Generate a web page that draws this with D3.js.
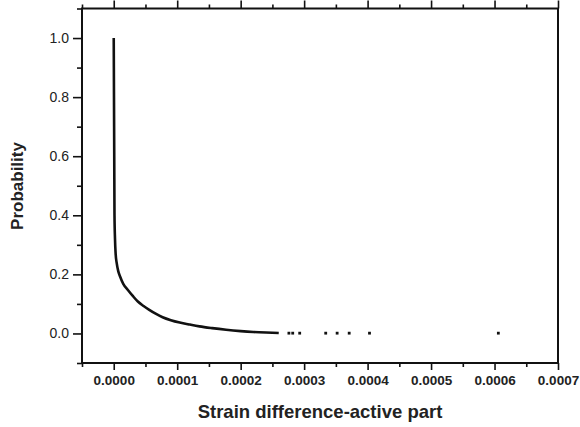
<!DOCTYPE html>
<html>
<head>
<meta charset="utf-8">
<script src="https://cdn.jsdelivr.net/npm/d3@7"></script>
<style>
  body { margin: 0; background: #fff; }
  svg text { font-family: "Liberation Sans", Arial, sans-serif; fill: #222; }
  .domain { display: none; }
</style>
</head>
<body>
<div id="chart"></div>
<script>
// values
var curveX = [0, 0.4e-6, 0.8e-6, 1.2e-6, 2.0e-6, 3.0e-6, 4.7e-6, 7e-6, 1.0e-5, 1.5e-5,
              2.2e-5, 3.0e-5, 3.8e-5, 4.7e-5, 5.6e-5, 6.6e-5, 7.7e-5, 9.0e-5, 1.04e-4,
              1.2e-4, 1.35e-4, 1.55e-4, 1.77e-4, 2.0e-4, 2.2e-4, 2.4e-4, 2.6e-4];
var curveP = [1.0, 0.8, 0.6, 0.4, 0.32, 0.27, 0.238, 0.212, 0.193, 0.168,
              0.148, 0.127, 0.108, 0.093, 0.080, 0.067, 0.055, 0.045, 0.037,
              0.030, 0.024, 0.018, 0.0125, 0.008, 0.005, 0.003, 0.0015];
// isolated points in the tail
var tailX = [2.76e-4, 2.82e-4, 2.93e-4, 3.34e-4, 3.52e-4, 3.71e-4, 4.03e-4, 6.06e-4];
var tailP = [0.001, 0.001, 0.001, 0.001, 0.001, 0.001, 0.001, 0.001];

var xMajor = [0, 0.0001, 0.0002, 0.0003, 0.0004, 0.0005, 0.0006, 0.0007];
var xMinor = [-0.00005, 0.00005, 0.00015, 0.00025, 0.00035, 0.00045, 0.00055, 0.00065];
var yMajor = [0, 0.2, 0.4, 0.6, 0.8, 1.0];
var yMinor = [-0.1, 0.1, 0.3, 0.5, 0.7, 0.9, 1.1];

var W = 580, H = 427;
var pLeft = 82, pRight = 558, pTop = 8.5, pBottom = 363;

var svg = d3.select("#chart").append("svg")
    .attr("width", W).attr("height", H);

var x = d3.scaleLinear().domain([-0.00005, 0.0007]).range([pLeft, pRight]);
var y = d3.scaleLinear().domain([-0.1, 1.1]).range([pBottom, pTop]);

function styleTicks(g) {
    g.selectAll("line").attr("stroke", "#111").attr("stroke-width", 1.6);
}

// bottom axis: labelled majors + minors
svg.append("g").attr("transform", "translate(0," + pBottom + ")")
    .call(d3.axisBottom(x).tickValues(xMajor).tickSize(7).tickPadding(5).tickFormat(d3.format(".4f")))
    .call(styleTicks)
    .call(function (g) {
        g.selectAll("text").style("font-size", "13.5px").style("font-weight", "bold")
            .style("font-family", "'Liberation Sans', Arial, sans-serif").attr("fill", "#222");
    });
svg.append("g").attr("transform", "translate(0," + pBottom + ")")
    .call(d3.axisBottom(x).tickValues(xMinor).tickSize(4).tickFormat(""))
    .call(styleTicks);

// top axis: ticks only
svg.append("g").attr("transform", "translate(0," + pTop + ")")
    .call(d3.axisTop(x).tickValues(xMajor).tickSize(8).tickFormat(""))
    .call(styleTicks);
svg.append("g").attr("transform", "translate(0," + pTop + ")")
    .call(d3.axisTop(x).tickValues(xMinor).tickSize(4).tickFormat(""))
    .call(styleTicks);

// left axis
svg.append("g").attr("transform", "translate(" + pLeft + ",0)")
    .call(d3.axisLeft(y).tickValues(yMajor).tickSize(9).tickPadding(4).tickFormat(d3.format(".1f")))
    .call(styleTicks)
    .call(function (g) {
        g.selectAll("text").style("font-size", "14px")
            .style("font-family", "'Liberation Sans', Arial, sans-serif").attr("fill", "#222");
    });
svg.append("g").attr("transform", "translate(" + pLeft + ",0)")
    .call(d3.axisLeft(y).tickValues(yMinor).tickSize(5).tickFormat(""))
    .call(styleTicks);

// frame
svg.append("rect")
    .attr("x", pLeft).attr("y", pTop)
    .attr("width", pRight - pLeft).attr("height", pBottom - pTop)
    .attr("fill", "none").attr("stroke", "#111").attr("stroke-width", 2);

// curve
var pts = curveX.map(function (d, i) { return [d, curveP[i]]; });
var line = d3.line()
    .x(function (d) { return x(d[0]); })
    .y(function (d) { return y(d[1]); })
    .curve(d3.curveMonotoneX);
svg.append("path")
    .datum(pts)
    .attr("d", line)
    .attr("fill", "none")
    .attr("stroke", "#111")
    .attr("stroke-width", 2.6);

var tail = tailX.map(function (d, i) { return [d, tailP[i]]; });
svg.selectAll(".tail")
    .data(tail)
    .enter().append("rect")
    .attr("class", "tail")
    .attr("x", function (d) { return x(d[0]) - 1.4; })
    .attr("y", function (d) { return y(d[1]) - 1.4; })
    .attr("width", 2.8).attr("height", 2.8)
    .attr("fill", "#111");

// axis titles
svg.append("text")
    .attr("x", (pLeft + pRight) / 2).attr("y", 418)
    .attr("text-anchor", "middle")
    .style("font-size", "18.5px").style("font-weight", "bold")
    .text("Strain difference-active part");

svg.append("text")
    .attr("transform", "translate(23," + 186 + ") rotate(-90)")
    .attr("text-anchor", "middle")
    .style("font-size", "17px").style("font-weight", "bold")
    .text("Probability");
</script>
</body>
</html>
